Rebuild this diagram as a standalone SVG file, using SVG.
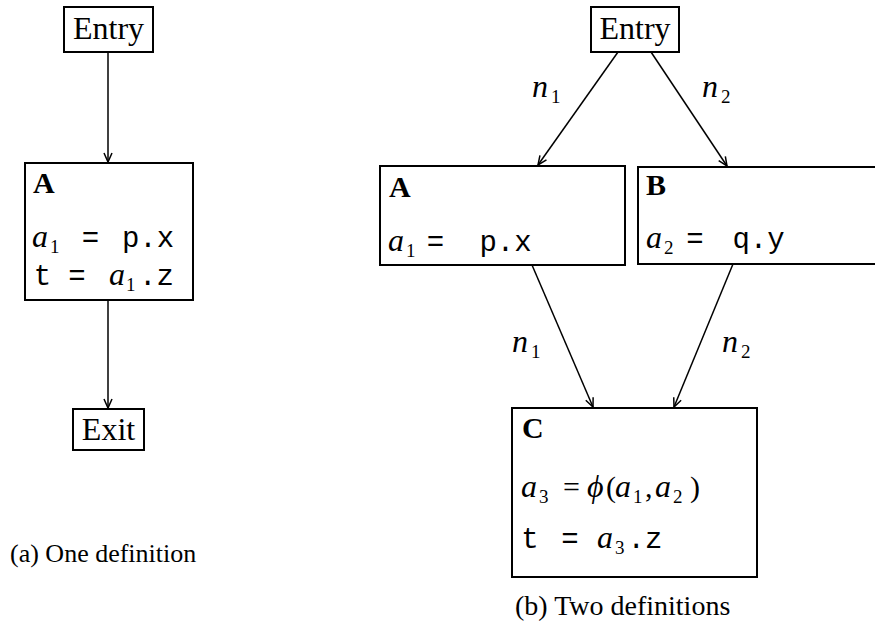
<svg xmlns="http://www.w3.org/2000/svg" width="875" height="633" viewBox="0 0 875 633">
<style>
.box{fill:#fff;stroke:#000;stroke-width:2}
.edge{stroke:#000;stroke-width:1.5;fill:none;marker-end:url(#ah)}
.rm{font-family:"Liberation Serif",serif;font-size:32px;fill:#000}
.eq{font-family:"Liberation Serif",serif;font-size:30px;fill:#000}
.bf{font-family:"Liberation Serif",serif;font-size:30px;font-weight:bold;fill:#000}
.it{font-family:"Liberation Serif",serif;font-size:32px;font-style:italic;fill:#000}
.sub{font-family:"Liberation Serif",serif;font-size:19px;fill:#000}
.tt{font-family:"Liberation Mono",monospace;font-size:29px;fill:#000;text-anchor:middle}
.cap{font-family:"Liberation Serif",serif;fill:#000}
</style>
<defs>
<marker id="ah" markerUnits="userSpaceOnUse" markerWidth="12" markerHeight="12" viewBox="-11 -6 12 12" refX="0" refY="0" orient="auto">
<path d="M-9,-4 L0,0 L-9,4" fill="none" stroke="#000" stroke-width="1.5"/>
</marker>
</defs>
<g id="connectors">
<line class="edge" x1="108" y1="52" x2="108" y2="162"/>
<line class="edge" x1="108" y1="300" x2="108" y2="408"/>
<line class="edge" x1="618" y1="52" x2="538" y2="165"/>
<line class="edge" x1="651" y1="52" x2="727" y2="166"/>
<line class="edge" x1="532" y1="265" x2="593" y2="407"/>
<line class="edge" x1="733" y1="264" x2="674" y2="407"/>
<g id="edge-labels">
<text class="it" x="532" y="97">n</text><text class="sub" x="551" y="103">1</text>
<text class="it" x="702" y="97">n</text><text class="sub" x="721" y="103">2</text>
<text class="it" x="512" y="352">n</text><text class="sub" x="531" y="358">1</text>
<text class="it" x="722" y="352">n</text><text class="sub" x="741" y="358">2</text>
</g>
</g>
<g id="entry-a">
<rect class="box" x="64" y="7" width="89" height="45"/>
<text class="rm" x="108.5" y="39" text-anchor="middle">Entry</text>
</g>
<g id="block-a-left">
<rect class="box" x="25" y="163" width="168" height="137"/>
<text class="bf" x="33" y="193">A</text>
<text class="it" x="32" y="247">a</text><text class="sub" x="50" y="253">1</text>
<text class="tt" x="90.5" y="247">=</text>
<text class="tt" x="148" y="247">p.x</text>
<text class="tt" x="42.5" y="285">t</text>
<text class="tt" x="77" y="285">=</text>
<text class="it" x="109" y="285">a</text><text class="sub" x="126" y="291">1</text>
<text class="tt" x="156.5" y="285">.z</text>
</g>
<g id="exit-a">
<rect class="box" x="73" y="409" width="71" height="41"/>
<text class="rm" x="108.5" y="440" text-anchor="middle">Exit</text>
</g>
<text class="cap" x="10" y="562" font-size="26">(a) One definition</text>
<g id="entry-b">
<rect class="box" x="591" y="7" width="88" height="45"/>
<text class="rm" x="635" y="39" text-anchor="middle">Entry</text>
</g>
<g id="block-a-right">
<rect class="box" x="380" y="166" width="245" height="99"/>
<text class="bf" x="389" y="197">A</text>
<text class="it" x="388" y="251">a</text><text class="sub" x="406" y="257">1</text>
<text class="tt" x="435.5" y="251">=</text>
<text class="tt" x="505.5" y="251">p.x</text>
</g>
<g id="block-b">
<rect class="box" x="638" y="167" width="245" height="97"/>
<text class="bf" x="646" y="195">B</text>
<text class="it" x="646" y="248">a</text><text class="sub" x="664" y="254">2</text>
<text class="tt" x="695" y="248">=</text>
<text class="tt" x="758.5" y="248">q.y</text>
</g>
<g id="block-c">
<rect class="box" x="512" y="408" width="245" height="169"/>
<text class="bf" x="522" y="438">C</text>
<text class="it" x="521" y="497">a</text><text class="sub" x="539" y="503">3</text>
<text class="eq" x="563" y="497">=</text>
<text class="it" x="587" y="497">ϕ</text>
<text class="eq" x="606" y="497">(</text>
<text class="it" x="615" y="497">a</text><text class="sub" x="633" y="503">1</text>
<text class="eq" x="645" y="497">,</text>
<text class="it" x="655" y="497">a</text><text class="sub" x="673" y="503">2</text>
<text class="eq" x="690" y="497">)</text>
<text class="tt" x="530" y="548">t</text>
<text class="tt" x="570" y="548">=</text>
<text class="it" x="597" y="548">a</text><text class="sub" x="615" y="554">3</text>
<text class="tt" x="645" y="548">.z</text>
</g>
<text class="cap" x="515" y="615" font-size="28">(b) Two definitions</text>
</svg>
